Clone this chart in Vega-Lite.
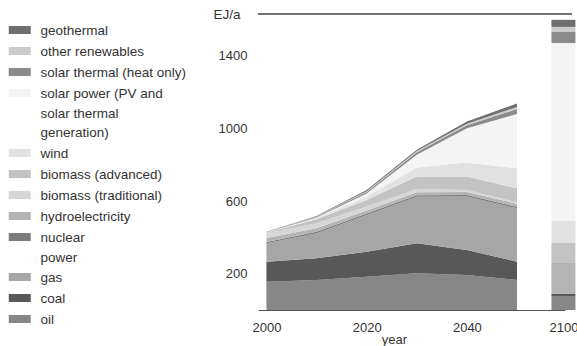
{
  "$schema": "https://vega.github.io/schema/vega-lite/v6.json",
  "width": 314,
  "height": 296,
  "autosize": {"type": "none"},
  "padding": {"left": 258, "top": 14, "right": 5, "bottom": 36},
  "background": "white",
  "config": {
    "view": {"stroke": null},
    "font": "Liberation Sans"
  },
  "datasets": {
    "energy": [
      {"year": 2000, "source": "oil", "k": 1, "ej": 156},
      {"year": 2000, "source": "coal", "k": 2, "ej": 110},
      {"year": 2000, "source": "gas", "k": 3, "ej": 101},
      {"year": 2000, "source": "nuclear power", "k": 4, "ej": 8},
      {"year": 2000, "source": "hydroelectricity", "k": 5, "ej": 22},
      {"year": 2000, "source": "biomass (traditional)", "k": 6, "ej": 25},
      {"year": 2000, "source": "biomass (advanced)", "k": 7, "ej": 3},
      {"year": 2000, "source": "wind", "k": 8, "ej": 1},
      {"year": 2000, "source": "solar power (PV and solar thermal generation)", "k": 9, "ej": 0.5},
      {"year": 2000, "source": "solar thermal (heat only)", "k": 10, "ej": 2},
      {"year": 2000, "source": "other renewables", "k": 11, "ej": 1},
      {"year": 2000, "source": "geothermal", "k": 12, "ej": 2},
      {"year": 2010, "source": "oil", "k": 1, "ej": 165},
      {"year": 2010, "source": "coal", "k": 2, "ej": 120},
      {"year": 2010, "source": "gas", "k": 3, "ej": 138},
      {"year": 2010, "source": "nuclear power", "k": 4, "ej": 8},
      {"year": 2010, "source": "hydroelectricity", "k": 5, "ej": 19},
      {"year": 2010, "source": "biomass (traditional)", "k": 6, "ej": 28},
      {"year": 2010, "source": "biomass (advanced)", "k": 7, "ej": 22},
      {"year": 2010, "source": "wind", "k": 8, "ej": 6},
      {"year": 2010, "source": "solar power (PV and solar thermal generation)", "k": 9, "ej": 3},
      {"year": 2010, "source": "solar thermal (heat only)", "k": 10, "ej": 4},
      {"year": 2010, "source": "other renewables", "k": 11, "ej": 2},
      {"year": 2010, "source": "geothermal", "k": 12, "ej": 3},
      {"year": 2020, "source": "oil", "k": 1, "ej": 183},
      {"year": 2020, "source": "coal", "k": 2, "ej": 138},
      {"year": 2020, "source": "gas", "k": 3, "ej": 202},
      {"year": 2020, "source": "nuclear power", "k": 4, "ej": 8},
      {"year": 2020, "source": "hydroelectricity", "k": 5, "ej": 17},
      {"year": 2020, "source": "biomass (traditional)", "k": 6, "ej": 22},
      {"year": 2020, "source": "biomass (advanced)", "k": 7, "ej": 36},
      {"year": 2020, "source": "wind", "k": 8, "ej": 19},
      {"year": 2020, "source": "solar power (PV and solar thermal generation)", "k": 9, "ej": 17},
      {"year": 2020, "source": "solar thermal (heat only)", "k": 10, "ej": 8},
      {"year": 2020, "source": "other renewables", "k": 11, "ej": 4},
      {"year": 2020, "source": "geothermal", "k": 12, "ej": 7},
      {"year": 2030, "source": "oil", "k": 1, "ej": 202},
      {"year": 2030, "source": "coal", "k": 2, "ej": 165},
      {"year": 2030, "source": "gas", "k": 3, "ej": 257},
      {"year": 2030, "source": "nuclear power", "k": 4, "ej": 8},
      {"year": 2030, "source": "hydroelectricity", "k": 5, "ej": 17},
      {"year": 2030, "source": "biomass (traditional)", "k": 6, "ej": 17},
      {"year": 2030, "source": "biomass (advanced)", "k": 7, "ej": 69},
      {"year": 2030, "source": "wind", "k": 8, "ej": 50},
      {"year": 2030, "source": "solar power (PV and solar thermal generation)", "k": 9, "ej": 70},
      {"year": 2030, "source": "solar thermal (heat only)", "k": 10, "ej": 14},
      {"year": 2030, "source": "other renewables", "k": 11, "ej": 6},
      {"year": 2030, "source": "geothermal", "k": 12, "ej": 8},
      {"year": 2040, "source": "oil", "k": 1, "ej": 193},
      {"year": 2040, "source": "coal", "k": 2, "ej": 138},
      {"year": 2040, "source": "gas", "k": 3, "ej": 294},
      {"year": 2040, "source": "nuclear power", "k": 4, "ej": 8},
      {"year": 2040, "source": "hydroelectricity", "k": 5, "ej": 17},
      {"year": 2040, "source": "biomass (traditional)", "k": 6, "ej": 11},
      {"year": 2040, "source": "biomass (advanced)", "k": 7, "ej": 74},
      {"year": 2040, "source": "wind", "k": 8, "ej": 77},
      {"year": 2040, "source": "solar power (PV and solar thermal generation)", "k": 9, "ej": 189},
      {"year": 2040, "source": "solar thermal (heat only)", "k": 10, "ej": 17},
      {"year": 2040, "source": "other renewables", "k": 11, "ej": 7},
      {"year": 2040, "source": "geothermal", "k": 12, "ej": 13},
      {"year": 2050, "source": "oil", "k": 1, "ej": 165},
      {"year": 2050, "source": "coal", "k": 2, "ej": 101},
      {"year": 2050, "source": "gas", "k": 3, "ej": 294},
      {"year": 2050, "source": "nuclear power", "k": 4, "ej": 8},
      {"year": 2050, "source": "hydroelectricity", "k": 5, "ej": 17},
      {"year": 2050, "source": "biomass (traditional)", "k": 6, "ej": 8},
      {"year": 2050, "source": "biomass (advanced)", "k": 7, "ej": 77},
      {"year": 2050, "source": "wind", "k": 8, "ej": 110},
      {"year": 2050, "source": "solar power (PV and solar thermal generation)", "k": 9, "ej": 299},
      {"year": 2050, "source": "solar thermal (heat only)", "k": 10, "ej": 28},
      {"year": 2050, "source": "other renewables", "k": 11, "ej": 11},
      {"year": 2050, "source": "geothermal", "k": 12, "ej": 19},
      {"year": 2100, "source": "oil", "k": 1, "ej": 77},
      {"year": 2100, "source": "coal", "k": 2, "ej": 11},
      {"year": 2100, "source": "gas", "k": 3, "ej": 0},
      {"year": 2100, "source": "nuclear power", "k": 4, "ej": 0},
      {"year": 2100, "source": "hydroelectricity", "k": 5, "ej": 171},
      {"year": 2100, "source": "biomass (traditional)", "k": 6, "ej": 0},
      {"year": 2100, "source": "biomass (advanced)", "k": 7, "ej": 110},
      {"year": 2100, "source": "wind", "k": 8, "ej": 121},
      {"year": 2100, "source": "solar power (PV and solar thermal generation)", "k": 9, "ej": 980},
      {"year": 2100, "source": "solar thermal (heat only)", "k": 10, "ej": 61},
      {"year": 2100, "source": "other renewables", "k": 11, "ej": 28},
      {"year": 2100, "source": "geothermal", "k": 12, "ej": 39}
    ]
  },
  "layer": [
    {
      "data": {"name": "energy"},
      "transform": [{"filter": "datum.year <= 2050"}],
      "mark": {"type": "area", "interpolate": "linear"},
      "encoding": {
        "x": {
          "field": "year", "type": "quantitative",
          "scale": {"domain": [2000, 2050, 2100], "range": [0, 259, 307], "nice": false, "zero": false},
          "axis": {
            "values": [2000, 2020, 2040, 2100], "format": "d", "title": "year",
            "grid": false, "ticks": false, "tickSize": 0, "labelPadding": 11,
            "labelFlush": false, "labelOverlap": false, "labelBound": false,
            "domainColor": "#555", "domainWidth": 1,
            "labelFontSize": 13, "labelColor": "#333",
            "titleFontSize": 13, "titleFontWeight": "normal", "titleColor": "#333",
            "titleX": 136, "titleY": 29, "titleBaseline": "middle", "titleAlign": "center"
          }
        },
        "y": {
          "field": "ej", "type": "quantitative", "stack": "zero",
          "scale": {"domain": [0, 1630], "nice": false},
          "axis": {
            "values": [200, 600, 1000, 1400], "format": "d", "title": "EJ/a",
            "grid": false, "ticks": false, "tickSize": 0, "domain": false, "labelPadding": 11,
            "labelFontSize": 13, "labelColor": "#333",
            "titleAngle": 0, "titleX": -45, "titleY": 0, "titleAlign": "left", "titleBaseline": "middle",
            "titleFontWeight": "normal", "titleFontSize": 13.5, "titleColor": "#333"
          }
        },
        "color": {
          "field": "source", "type": "nominal",
          "scale": {
            "domain": ["geothermal", "other renewables", "solar thermal (heat only)", "solar power (PV and solar thermal generation)", "wind", "biomass (advanced)", "biomass (traditional)", "hydroelectricity", "nuclear power", "gas", "coal", "oil"],
            "range": ["#6f6f6f", "#cbcbcb", "#8a8a8a", "#f4f4f4", "#e2e2e2", "#c3c3c3", "#d6d6d6", "#b4b4b4", "#7c7c7c", "#a6a6a6", "#585858", "#878787"]
          },
          "legend": {
            "title": null, "orient": "none", "legendX": -245, "legendY": 3.25, "padding": 0,
            "symbolType": "M-2.2,0.4H2.2V2H-2.2Z", "symbolSize": 100, "symbolStrokeWidth": 0,
            "labelFontSize": 13.5, "labelBaseline": "top", "labelOffset": 14,
            "labelLimit": 250, "rowPadding": 0, "labelColor": "#333",
            "labelExpr": "datum.label == 'solar power (PV and solar thermal generation)' ? ['solar power (PV and', 'solar thermal', 'generation)'] : datum.label == 'nuclear power' ? ['nuclear', 'power'] : datum.label",
            "encode": {"labels": {"update": {"lineHeight": {"value": 19.5}}}}
          }
        },
        "order": {"field": "k", "type": "quantitative"}
      }
    },
    {
      "data": {"name": "energy"},
      "transform": [{"filter": "datum.year == 2100"}],
      "mark": {"type": "bar", "size": 24},
      "encoding": {
        "x": {"field": "year", "type": "quantitative"},
        "y": {"field": "ej", "type": "quantitative", "stack": "zero"},
        "color": {"field": "source", "type": "nominal"},
        "order": {"field": "k", "type": "quantitative"}
      }
    },
    {
      "data": {"values": [{}]},
      "mark": {"type": "rule", "color": "#444", "strokeWidth": 1.3},
      "encoding": {"y": {"datum": 1630}}
    }
  ]
}
